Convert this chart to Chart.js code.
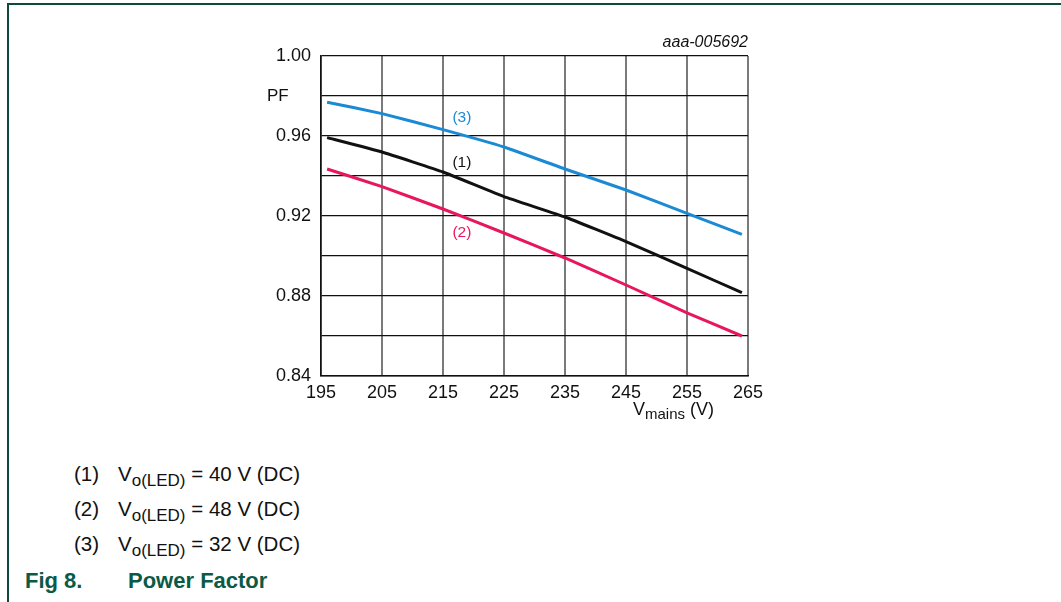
<!DOCTYPE html>
<html>
<head>
<meta charset="utf-8">
<script src="https://cdn.jsdelivr.net/npm/chart.js@4"></script>
<style>
  body { margin: 0; background: #fff; font-family: "Liberation Sans", Arial, sans-serif; }
  #page { position: relative; width: 1061px; height: 602px; overflow: hidden; }
  #frame { position: absolute; left: 7px; top: 3px; width: 1100px; height: 700px; border-left: 2px solid #0e4a3c; border-top: 2px solid #0e4a3c; }
  #wrap { position: absolute; left: 0; top: 0; width: 1061px; height: 430px; }
  .leg { position: absolute; left: 74px; font-size: 20.5px; line-height: 24px; height: 24px; color: #111; }
  .leg span.v { position: absolute; left: 44px; top: 0; white-space: nowrap; }
  .leg sub { font-size: 17px; line-height: 0; vertical-align: -5px; }
  #fig { position: absolute; left: 25px; top: 568px; font-size: 22px; line-height: 26px; font-weight: bold; color: #0b5a45; }
  #fig span { position: absolute; left: 103px; white-space: nowrap; }
</style>
</head>
<body>
<div id="page">
  <div id="frame"></div>
  <div id="wrap"><canvas id="pf"></canvas></div>
  <div class="leg" style="top:462px">(1)<span class="v">V<sub>o(LED)</sub> = 40 V (DC)</span></div>
  <div class="leg" style="top:497px">(2)<span class="v">V<sub>o(LED)</sub> = 48 V (DC)</span></div>
  <div class="leg" style="top:532px">(3)<span class="v">V<sub>o(LED)</sub> = 32 V (DC)</span></div>
  <div id="fig">Fig 8.<span>Power Factor</span></div>
</div>
<script>
// data
const vmains = [196, 205, 215, 225, 235, 245, 255, 264];
const pf40 = [0.9592, 0.952, 0.942, 0.9297, 0.9195, 0.9072, 0.8938, 0.8817];
const pf48 = [0.9435, 0.9347, 0.9235, 0.9115, 0.899, 0.8855, 0.8716, 0.860];
const pf32 = [0.9769, 0.9712, 0.9632, 0.9545, 0.9435, 0.933, 0.9213, 0.9108];
const xTicks = [195, 205, 215, 225, 235, 245, 255, 265];
const yLabels = [0.84, 0.88, 0.92, 0.96, 1.00];

// curve labels: text, x, y, colour
const curveTags = [
    ['(3)', 218.1, 0.969, '#1a8ad4'],
    ['(1)', 218.1, 0.9465, '#111111'],
    ['(2)', 218.1, 0.9115, '#e8175d']
];

const FONT = '"Liberation Sans", Arial, sans-serif';
const toPts = vals => vals.map((v, i) => ({ x: vmains[i], y: v }));

const extras = {
    id: 'extras',
    afterDraw(chart) {
        const { ctx, scales: { x, y }, chartArea } = chart;
        ctx.save();
        ctx.textBaseline = 'middle';
        ctx.font = '15.5px ' + FONT;
        ctx.textAlign = 'center';
        curveTags.forEach(t => {
            ctx.fillStyle = t[3];
            ctx.fillText(t[0], x.getPixelForValue(t[1]), y.getPixelForValue(t[2]));
        });
        // y axis title
        ctx.fillStyle = '#111';
        ctx.font = '17px ' + FONT;
        ctx.textAlign = 'left';
        ctx.fillText('PF', 267, y.getPixelForValue(0.98));
        // figure code
        ctx.font = 'italic 16px ' + FONT;
        ctx.textAlign = 'right';
        ctx.textBaseline = 'alphabetic';
        ctx.fillText('aaa-005692', chartArea.right, chartArea.top - 9);
        // x axis title with subscript
        const base = chartArea.bottom + 39;
        ctx.textAlign = 'left';
        ctx.font = '18px ' + FONT;
        let px = 633;
        ctx.fillText('V', px, base);
        px += ctx.measureText('V').width;
        ctx.font = '15px ' + FONT;
        ctx.fillText('mains', px, base + 4);
        px += ctx.measureText('mains').width;
        ctx.font = '18px ' + FONT;
        ctx.fillText(' (V)', px, base);
        ctx.restore();
    }
};

new Chart(document.getElementById('pf'), {
    type: 'scatter',
    data: {
        datasets: [
            { label: '(1)', data: toPts(pf40), borderColor: '#111111' },
            { label: '(2)', data: toPts(pf48), borderColor: '#e8175d' },
            { label: '(3)', data: toPts(pf32), borderColor: '#1a8ad4' }
        ].map(d => Object.assign(d, { showLine: true, pointRadius: 0, borderWidth: 3, tension: 0.1, fill: false }))
    },
    options: {
        responsive: true,
        maintainAspectRatio: false,
        animation: false,
        layout: { padding: { left: 0, top: 56, right: 313, bottom: 0 } },
        plugins: { legend: { display: false }, tooltip: { enabled: false } },
        scales: {
            x: {
                type: 'linear', min: 195, max: 265,
                afterBuildTicks: s => { s.ticks = xTicks.map(v => ({ value: v })); },
                afterFit: s => { s.height = 54; },
                grid: { color: '#7a7a7a', lineWidth: 2, drawTicks: false },
                border: { color: '#111', width: 1.5 },
                ticks: { color: '#111', padding: 6, font: { size: 18, family: FONT } }
            },
            y: {
                min: 0.84, max: 1.0,
                afterBuildTicks: s => {
                    const t = [];
                    for (let i = 0; i <= 8; i++) t.push({ value: +(0.84 + i * 0.02).toFixed(2) });
                    s.ticks = t;
                },
                afterFit: s => { s.width = 321; },
                grid: { color: '#111', lineWidth: 1.3, drawTicks: false },
                border: { color: '#111', width: 1.5 },
                ticks: {
                    color: '#111', padding: 10,
                    font: { size: 18, family: FONT },
                    callback: v => yLabels.some(l => Math.abs(l - v) < 1e-6) ? v.toFixed(2) : ''
                }
            }
        }
    },
    plugins: [extras]
});
</script>
</body>
</html>
